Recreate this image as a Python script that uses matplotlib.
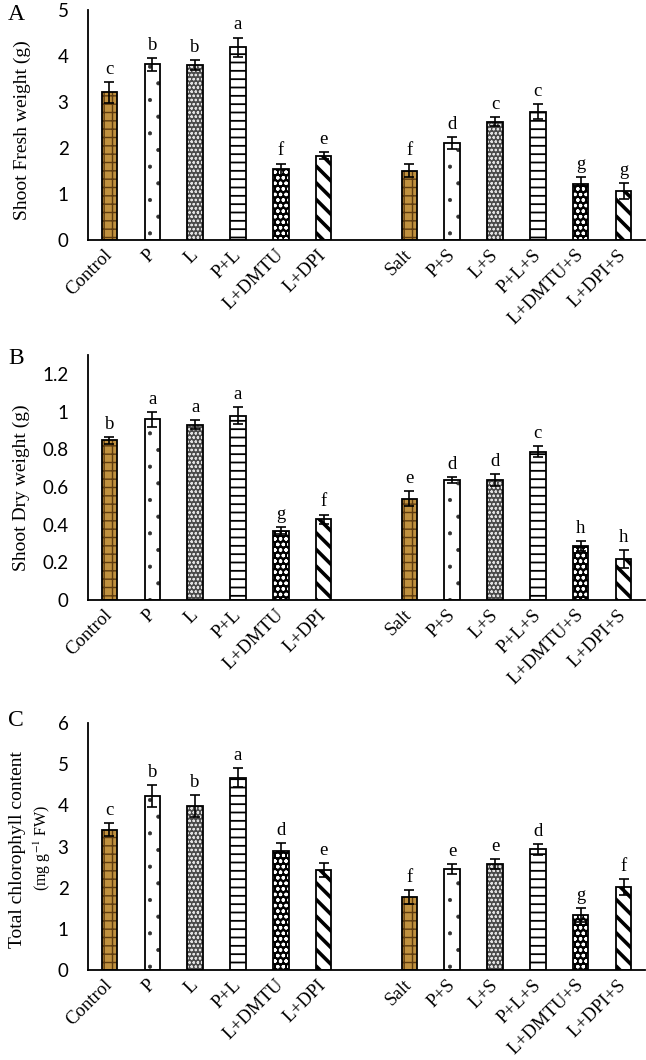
import matplotlib
matplotlib.use("Agg")
import matplotlib.pyplot as plt
import matplotlib.transforms as mtransforms
import numpy as np

categories = ["Control", "P", "L", "P+L", "L+DMTU", "L+DPI",
              "Salt", "P+S", "L+S", "P+L+S", "L+DMTU+S", "L+DPI+S"]
positions = [0, 1, 2, 3, 4, 5, 7, 8, 9, 10, 11, 12]

fresh_mean = [3.21, 3.82, 3.80, 4.19, 1.54, 1.83, 1.51, 2.11, 2.57, 2.79, 1.21, 1.07]
fresh_err = [0.23, 0.14, 0.11, 0.21, 0.12, 0.08, 0.15, 0.13, 0.10, 0.16, 0.16, 0.17]
fresh_letters = ["c", "b", "b", "a", "f", "e", "f", "d", "c", "c", "g", "g"]

dry_mean = [0.847, 0.958, 0.930, 0.977, 0.368, 0.428, 0.537, 0.636, 0.636, 0.787, 0.285, 0.217]
dry_err = [0.018, 0.040, 0.025, 0.045, 0.018, 0.025, 0.040, 0.017, 0.030, 0.028, 0.027, 0.048]
dry_letters = ["b", "a", "a", "a", "g", "f", "e", "d", "d", "c", "h", "h"]

chl_mean = [3.41, 4.23, 3.98, 4.67, 2.90, 2.43, 1.77, 2.46, 2.57, 2.93, 1.33, 2.01]
chl_err = [0.15, 0.26, 0.26, 0.23, 0.18, 0.16, 0.17, 0.12, 0.12, 0.13, 0.17, 0.19]
chl_letters = ["c", "b", "b", "a", "d", "e", "f", "e", "e", "d", "g", "f"]

# style per treatment (cycle of 6, repeated for salt group)
styles = [
    dict(face="#c0913f", hatch="++", hcolor="#5e3c10", hlw=1.0),   # Control / Salt
    dict(face="white", hatch=".", hcolor="#333333", hlw=0.5),      # P
    dict(face="#4a4a4a", hatch="oooo", hcolor="#e0e0e0", hlw=0.6), # L
    dict(face="white", hatch="--", hcolor="black", hlw=1.3),       # P+L
    dict(face="black", hatch="ooo", hcolor="white", hlw=0.9),      # L+DMTU
    dict(face="white", hatch="\\\\", hcolor="black", hlw=2.6),     # L+DPI
]

SERIF = "Liberation Serif"
SANS = "Lato"

fig = plt.figure(figsize=(6.46, 10.60), dpi=100)
H = 1060.0
W = 646.0


def make_axes(top_px, bottom_px):
    left = 88 / W
    right = 645 / W
    return fig.add_axes([left, 1 - bottom_px / H, right - left, (bottom_px - top_px) / H])


def draw_panel(ax, means, errs, letters, ymax, yticks, yticklabels):
    width = 0.36
    for i, (x, m, e, let) in enumerate(zip(positions, means, errs, letters)):
        st = styles[i % 6]
        with plt.rc_context({"hatch.linewidth": st["hlw"], "hatch.color": st["hcolor"]}):
            b = ax.bar(x, m, width=width, color=st["face"], edgecolor=st["hcolor"],
                       hatch=st["hatch"], linewidth=0, zorder=2)
            for p in b.patches:
                if hasattr(p, "set_hatch_linewidth"):
                    p.set_hatch_linewidth(st["hlw"])
        ax.bar(x, m, width=width, fill=False, edgecolor="black", linewidth=1.3, zorder=3)
        ax.errorbar(x, m, yerr=e, fmt="none", ecolor="black", elinewidth=1.2,
                    capsize=3.8, capthick=1.2, zorder=4)
        ax.annotate(let, (x, m + e), xytext=(0, 3), textcoords="offset points",
                    ha="center", va="bottom", fontsize=13.5, family=SERIF)
    ax.set_xlim(-0.5, 12.5)
    ax.set_ylim(0, ymax)
    ax.set_yticks(yticks)
    ax.set_yticklabels(yticklabels, family=SANS, fontsize=13.5)
    ax.set_xticks(positions)
    ax.set_xticklabels(categories, rotation=45, ha="right", va="center",
                       rotation_mode="anchor", family=SERIF, fontsize=13.5)
    off = mtransforms.ScaledTranslation(8 / 72, 0, fig.dpi_scale_trans)
    for lab in ax.get_xticklabels():
        lab.set_transform(lab.get_transform() + off)
    ax.tick_params(axis="y", length=0, pad=14)
    ax.tick_params(axis="x", length=0, pad=9)
    for s in ["top", "right"]:
        ax.spines[s].set_visible(False)
    for s in ["left", "bottom"]:
        ax.spines[s].set_linewidth(1.3)
        ax.spines[s].set_color("black")


axA = make_axes(10, 240)
draw_panel(axA, fresh_mean, fresh_err, fresh_letters, 5, [0, 1, 2, 3, 4, 5],
           ["0", "1", "2", "3", "4", "5"])
axB = make_axes(355, 600)
draw_panel(axB, dry_mean, dry_err, dry_letters, 1.3, [0, 0.2, 0.4, 0.6, 0.8, 1.0, 1.2],
           ["0", "0.2", "0.4", "0.6", "0.8", "1", "1.2"])
axC = make_axes(723, 970)
draw_panel(axC, chl_mean, chl_err, chl_letters, 6, [0, 1, 2, 3, 4, 5, 6],
           ["0", "1", "2", "3", "4", "5", "6"])

# y labels
fig.text(22 / W, 1 - 130 / H, "Shoot Fresh weight (g)", rotation=90, ha="center", va="center",
         family=SERIF, fontsize=14)
fig.text(21 / W, 1 - 488 / H, "Shoot Dry weight (g)", rotation=90, ha="center", va="center",
         family=SERIF, fontsize=14)
fig.text(18 / W, 1 - 850 / H, "Total chlorophyll content", rotation=90, ha="center", va="center",
         family=SERIF, fontsize=14)
fig.text(42 / W, 1 - 848 / H, "(mg g$^{-1}$ FW)", rotation=90, ha="center", va="center",
         family=SERIF, fontsize=11.5, math_fontfamily="stix")

# panel letters
for letter, y in [("A", 14), ("B", 358), ("C", 720)]:
    fig.text(16 / W, 1 - y / H, letter, ha="center", va="center", family=SERIF, fontsize=17)

fig.savefig("out.png", dpi=100, facecolor="white")
